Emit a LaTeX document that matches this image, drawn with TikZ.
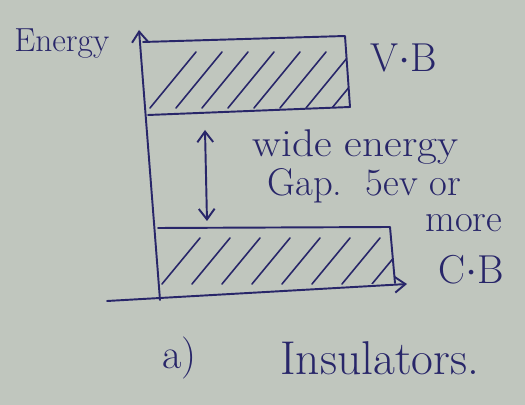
\documentclass[tikz,border=0pt]{standalone}
\usetikzlibrary{arrows.meta}
\definecolor{inkc}{RGB}{40,38,105}
\definecolor{bgc}{RGB}{192,198,190}
\begin{document}
\begin{tikzpicture}[x=0.02cm,y=-0.02cm,
  ink/.style={draw=inkc, line width=1.1pt, line cap=round, line join=round},
  hatch/.style={draw=inkc, line width=0.9pt, line cap=round},
  lbl/.style={text=inkc, font=\fontsize{22}{25}\selectfont, inner sep=0pt, anchor=west},
  tip/.style={-{Straight Barb[length=6pt,width=9pt]}}]
\fill[bgc] (0,0) rectangle (525,405);
\useasboundingbox (0,0) rectangle (525,405);
% axes
\coordinate (ytop) at (139,30);
\coordinate (ybot) at (160,300);
\coordinate (xl) at (107,301);
\coordinate (xr) at (407,284);
\draw[ink,tip] (ybot) -- (ytop);
\draw[ink,tip] (xl) -- (xr);
% valence band box
\coordinate (vbtl) at (143,42);
\coordinate (vbtr) at (345,36);
\coordinate (vbbr) at (350,107);
\coordinate (vbbl) at (148,115);
\draw[ink] (vbtl) -- (vbtr) -- (vbbr) -- (vbbl);
\begin{scope}
\clip (vbtl) -- (vbtr) -- (vbbr) -- (vbbl) -- cycle;
\foreach \i in {0,...,9}
  \draw[hatch] (150+\i*26,108) -- (196+\i*26,52);
\end{scope}
% conduction band box
\coordinate (cbtl) at (158,228);
\coordinate (cbtr) at (390,227);
\coordinate (cbbr) at (395,283);
\coordinate (cbbl) at (160,293);
\draw[ink] (cbtl) -- (cbtr) -- (cbbr);
\begin{scope}
\clip (cbtl) -- (cbtr) -- (cbbr) -- (cbbl) -- cycle;
\foreach \i in {0,...,8}
  \draw[hatch] (162+\i*30,284) -- (200+\i*30,238);
\end{scope}
% gap arrow
\coordinate (gtop) at (205,130);
\coordinate (gbot) at (207,221);
\draw[ink,{Straight Barb[length=6pt,width=9pt]}-{Straight Barb[length=6pt,width=9pt]}] (gbot) -- (gtop);
% labels
\node[lbl, font=\fontsize{19}{22}\selectfont] (energy) at (14,44) {Energy};
\node[lbl, font=\fontsize{23}{26}\selectfont] (vb) at (370,58) {V$\cdot$B};
\node[lbl, xscale=1.12] (wide) at (252,147) {wide energy};
\node[lbl] (gap) at (267,186) {Gap.\ \ 5ev or};
\node[lbl] (more) at (425,223) {more};
\node[lbl, font=\fontsize{23}{26}\selectfont] (cb) at (438,270) {C$\cdot$B};
\node[lbl, font=\fontsize{24}{27}\selectfont] (a) at (162,358) {a)};
\node[lbl, font=\fontsize{27}{30}\selectfont] (title) at (280,358) {Insulators.};
\end{tikzpicture}
\end{document}
